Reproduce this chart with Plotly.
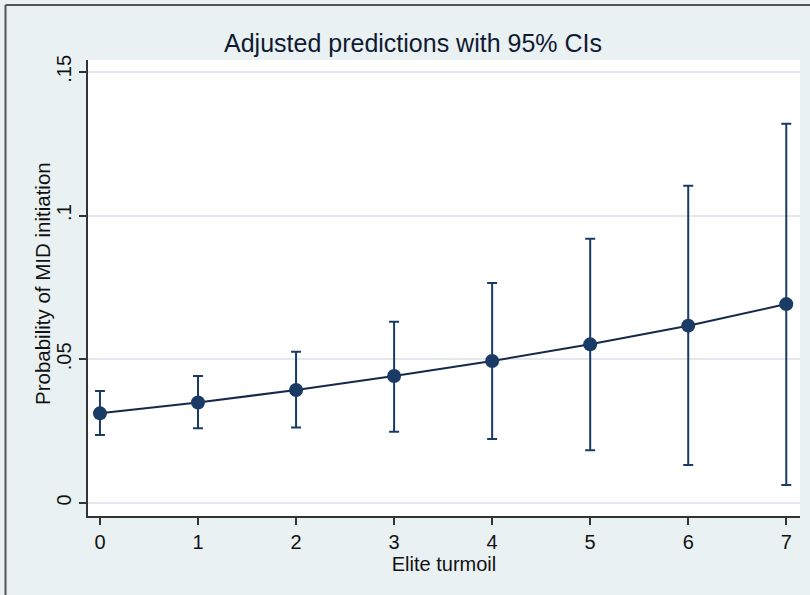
import plotly.graph_objects as go

elite_turmoil = [0, 1, 2, 3, 4, 5, 6, 7]
predicted = [0.0312, 0.0350, 0.0393, 0.0442, 0.0494, 0.0552, 0.0617, 0.0692]
ci_upper = [0.0390, 0.0442, 0.0526, 0.0631, 0.0765, 0.0919, 0.1104, 0.1319]
ci_lower = [0.0237, 0.0260, 0.0263, 0.0248, 0.0223, 0.0184, 0.0132, 0.0063]
y_tick_vals = [0, 0.05, 0.1, 0.15]
y_tick_text = ["0", ".05", ".1", ".15"]

err_plus = [u - p for u, p in zip(ci_upper, predicted)]
err_minus = [p - l for p, l in zip(predicted, ci_lower)]

NAVY = "#1a3b66"
FONT = "Liberation Sans, Arial, sans-serif"

fig = go.Figure()
fig.add_trace(go.Scatter(
    x=elite_turmoil, y=predicted, mode="lines+markers",
    line=dict(color="#16294a", width=2),
    marker=dict(color=NAVY, size=14, line=dict(width=0)),
    error_y=dict(type="data", symmetric=False, array=err_plus, arrayminus=err_minus,
                 color=NAVY, thickness=2, width=5),
    showlegend=False,
))

L, R, T, B = 88, 10, 60, 79
W, H = 810, 595
pw, ph = W - L - R, H - T - B

def px_x(p):
    return (p - L) / pw

def px_y(p):
    return (H - B - p) / ph

fig.update_layout(
    width=W, height=H,
    margin=dict(l=L, r=R, t=T, b=B, pad=0),
    paper_bgcolor="#e9f1f2",
    plot_bgcolor="white",
    font=dict(family=FONT, color="#111111"),
    title=dict(text="Adjusted predictions with 95% CIs", x=413 / W,
               xanchor="center", y=1 - 43 / H, yanchor="middle",
               font=dict(size=25, color="#111a33", family=FONT)),
    xaxis=dict(range=[-0.122, 7.14], tickvals=elite_turmoil,
               ticktext=[str(v) for v in elite_turmoil],
               showgrid=False, zeroline=False, showline=True, linecolor="#333333",
               linewidth=1.5, ticks="outside", ticklen=7, tickwidth=1.5, tickcolor="#333333",
               tickfont=dict(size=20), title=dict(text="Elite turmoil", font=dict(size=20), standoff=2)),
    yaxis=dict(range=[-0.0045, 0.1541], tickvals=y_tick_vals, ticktext=y_tick_text,
               tickangle=-90, showgrid=True, gridcolor="#e4e8ee", gridwidth=1.5,
               zeroline=False, showline=True, linecolor="#333333", linewidth=1.5,
               ticks="outside", ticklen=7, tickwidth=1.5, tickcolor="#333333",
               tickfont=dict(size=20)),
    annotations=[
        dict(text="Probability of MID initiation", xref="paper", yref="paper",
             x=px_x(42), y=px_y(284), xanchor="center", yanchor="middle",
             textangle=-90, showarrow=False, font=dict(size=20.5, color="#111111")),
    ],
    shapes=[
        dict(type="line", xref="paper", yref="paper", x0=px_x(5.5), x1=px_x(812),
             y0=px_y(5), y1=px_y(5), line=dict(color="#555555", width=2)),
        dict(type="line", xref="paper", yref="paper", x0=px_x(5.5), x1=px_x(5.5),
             y0=px_y(5), y1=px_y(597), line=dict(color="#555555", width=2)),
    ],
)

fig.write_html("out.html")
